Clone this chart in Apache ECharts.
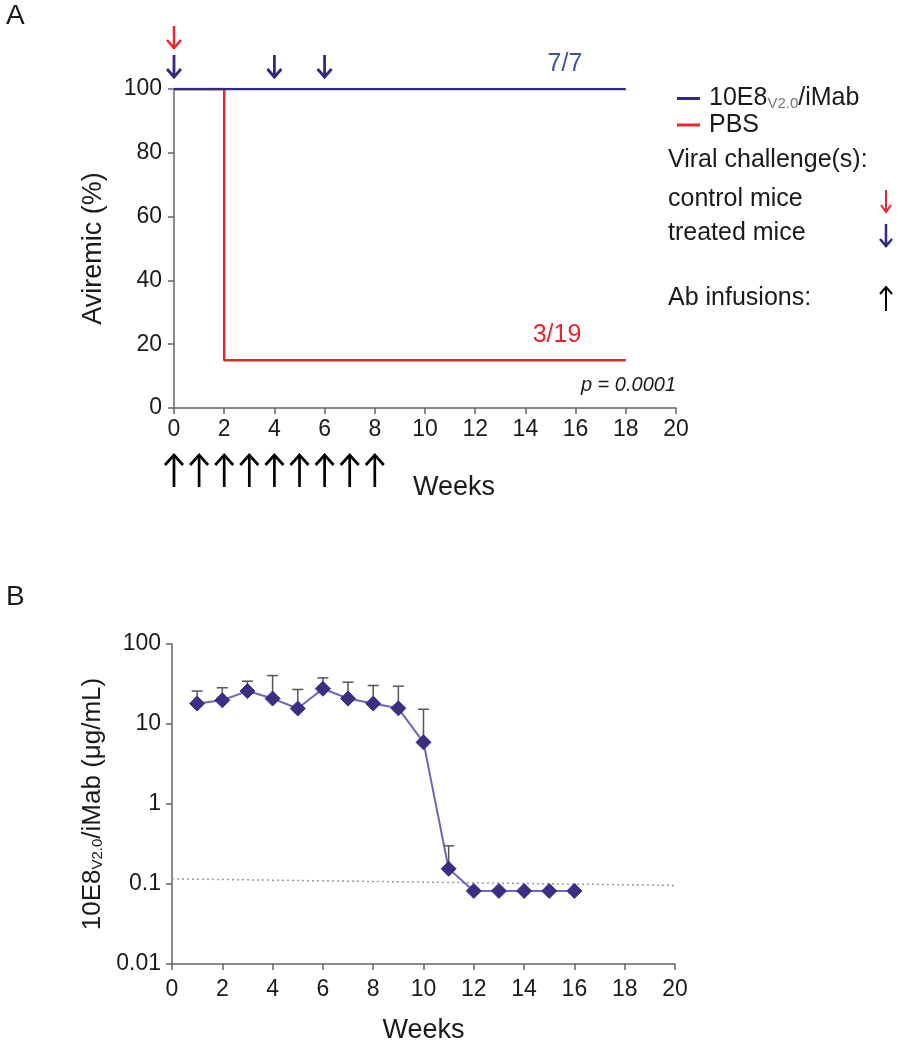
<!DOCTYPE html>
<html><head><meta charset="utf-8">
<script src="https://cdn.jsdelivr.net/npm/echarts@6/dist/echarts.min.js"></script>
<style>html,body{margin:0;padding:0;background:#fff}#c{width:897px;height:1050px}</style>
</head><body><div id="c"></div>
<script>
// ---------- Panel A data ----------
const xTicksA = [0,2,4,6,8,10,12,14,16,18,20];
const treatedWeeks = [0, 18];
const treatedPct = [100, 100];
const pbsWeeks = [0, 2, 2, 18];
const pbsPct = [100, 100, 15, 15];
const infusionWeeks = [0,1,2,3,4,5,6,7,8];
const treatedChallengeWeeks = [0, 4, 6];
const controlChallengeWeeks = [0];
const treatedLabel = '7/7';
const pbsLabel = '3/19';
const pText = 'p = 0.0001';
// ---------- Panel B data ----------
const weeksB = [1,2,3,4,5,6,7,8,9,10,11,12,13,14,15,16];
const concMean = [18.0, 19.8, 25.8, 20.8, 15.6, 27.6, 20.8, 18.0, 15.7, 5.9, 0.155, 0.082, 0.082, 0.082, 0.082, 0.082];
const concUpper = [25.8, 28.4, 34.3, 40.3, 27.0, 37.7, 33.3, 30.3, 29.7, 15.3, 0.30, null, null, null, null, null];
const lodWeeks = [0, 20];
const lodConc = [0.116, 0.096];
const yTicksB = [0.01, 0.1, 1, 10, 100];

const FONT = '"Liberation Sans", Arial, Helvetica, sans-serif';
const BLUE = '#2f2a7e';
const RED = '#e8262b';
const AXIS = '#666';
const TXT = '#1a1a1a';

const chart = echarts.init(document.getElementById('c'), null, {renderer: 'canvas'});

function arrowItem(cx, tipY, tailY, hw, hh, color, lw) {
  const d = tailY > tipY ? 1 : -1;
  return {
    type: 'group',
    children: [
      {type: 'line', shape: {x1: cx, y1: tipY + d * 1, x2: cx, y2: tailY}, style: {stroke: color, lineWidth: lw}},
      {type: 'polyline', shape: {points: [[cx - hw, tipY + d * hh], [cx, tipY], [cx + hw, tipY + d * hh]]},
       style: {stroke: color, lineWidth: lw, fill: null, lineJoin: 'miter'}}
    ]
  };
}

// arrows placed relative to the grid edges (offsets in px)
function arrowSeries(weeks, color, where, off1, off2, hw, hh, lw) {
  return {
    type: 'custom', xAxisIndex: 0, yAxisIndex: 0, clip: false, silent: true, z: 5,
    data: weeks.map(w => [w]),
    encode: {x: 0},
    renderItem(params, api) {
      const cs = params.coordSys;
      const cx = api.coord([api.value(0), 50])[0];
      if (where === 'below') {
        const base = cs.y + cs.height;
        return arrowItem(cx, base + off1, base + off2, hw, hh, color, lw);
      } else {
        const base = cs.y;
        return arrowItem(cx, base - off1, base - off2, hw, hh, color, lw);
      }
    }
  };
}

const axisLabelStyle = {color: TXT, fontSize: 23, fontFamily: FONT};
const axisLineStyle = {show: true, lineStyle: {color: AXIS, width: 1.5}};
const tickStyle = {show: true, length: 6, inside: false, lineStyle: {color: AXIS, width: 1.5}};

const option = {
  animation: false,
  backgroundColor: '#fff',
  textStyle: {fontFamily: FONT},
  grid: [
    {left: 174, top: 89, width: 502, height: 319},
    {left: 172, top: 644, width: 503, height: 320}
  ],
  xAxis: [
    {type: 'value', gridIndex: 0, min: 0, max: 20, interval: 2,
     axisLine: axisLineStyle, axisTick: tickStyle, splitLine: {show: false},
     axisLabel: Object.assign({margin: 10}, axisLabelStyle),
     name: 'Weeks', nameLocation: 'middle', nameGap: 66,
     nameTextStyle: {color: TXT, fontSize: 27, fontFamily: FONT, padding: [0, 0, 0, 58]}},
    {type: 'value', gridIndex: 1, min: 0, max: 20, interval: 2,
     axisLine: axisLineStyle, axisTick: tickStyle, splitLine: {show: false},
     axisLabel: Object.assign({margin: 14}, axisLabelStyle),
     name: 'Weeks', nameLocation: 'middle', nameGap: 53,
     nameTextStyle: {color: TXT, fontSize: 27, fontFamily: FONT}}
  ],
  yAxis: [
    {type: 'value', gridIndex: 0, min: 0, max: 100, interval: 20,
     axisLine: axisLineStyle, axisTick: tickStyle, splitLine: {show: false},
     axisLabel: Object.assign({margin: 12}, axisLabelStyle),
     name: 'Aviremic (%)', nameLocation: 'middle', nameGap: 67, nameRotate: 90,
     nameTextStyle: {color: TXT, fontSize: 27, fontFamily: FONT}},
    {type: 'log', gridIndex: 1, min: 0.01, max: 100, logBase: 10,
     axisLine: axisLineStyle, axisTick: tickStyle, splitLine: {show: false}, minorTick: {show: false},
     axisLabel: Object.assign({margin: 11, formatter: v => {
        const t = yTicksB.find(k => Math.abs(Math.log10(k) - Math.log10(v)) < 1e-6);
        return t === undefined ? '' : String(t);
     }}, axisLabelStyle),
     name: '{a|10E8}{s|V2.0}{a|/iMab (μg/mL)}', nameLocation: 'middle', nameGap: 66, nameRotate: 90,
     nameTextStyle: {color: TXT, fontFamily: FONT, rich: {
       a: {fontSize: 26, fontFamily: FONT, color: TXT},
       s: {fontSize: 15, fontFamily: FONT, color: TXT, verticalAlign: 'bottom', padding: [8, 0, 0, 0]}
     }}}
  ],
  legend: {
    orient: 'vertical', left: 672, top: 81, itemWidth: 23, itemHeight: 3, itemGap: 1,
    icon: 'rect', selectedMode: false,
    data: ['10E8V2.0/iMab', 'PBS'],
    formatter: n => n === 'PBS' ? '{a|PBS}' : '{a|10E8}{s|V2.0}{a|/iMab}',
    textStyle: {color: TXT, fontFamily: FONT, padding: [0, 0, 0, 4], rich: {
      a: {fontSize: 25, lineHeight: 26, fontFamily: FONT, color: TXT},
      s: {fontSize: 15, lineHeight: 26, fontFamily: FONT, color: '#777', verticalAlign: 'bottom', padding: [6, 0, 0, 0]}
    }}
  },
  series: [
    {name: 'PBS', type: 'line', xAxisIndex: 0, yAxisIndex: 0, showSymbol: false, symbol: 'none',
     data: pbsWeeks.map((w, i) => [w, pbsPct[i]]),
     itemStyle: {color: RED}, lineStyle: {color: RED, width: 2.5}, z: 2},
    {name: '10E8V2.0/iMab', type: 'line', xAxisIndex: 0, yAxisIndex: 0, showSymbol: false, symbol: 'none',
     data: treatedWeeks.map((w, i) => [w, treatedPct[i]]),
     itemStyle: {color: BLUE}, lineStyle: {color: BLUE, width: 2.5}, z: 3},
    arrowSeries(infusionWeeks, '#000', 'below', 47, 79, 9, 10, 2.7),
    arrowSeries(treatedChallengeWeeks, BLUE, 'above', 12, 34, 7, 8, 2.8),
    arrowSeries(controlChallengeWeeks, RED, 'above', 41, 63, 7, 8, 2.5),
    // Panel B
    {type: 'line', xAxisIndex: 1, yAxisIndex: 1, showSymbol: false, symbol: 'none', silent: true,
     data: lodWeeks.map((w, i) => [w, lodConc[i]]),
     lineStyle: {color: '#999', width: 1.5, type: [2, 3]}, z: 1},
    {type: 'custom', xAxisIndex: 1, yAxisIndex: 1, silent: true, z: 2,
     data: weeksB.map((w, i) => [w, concMean[i], concUpper[i]]).filter(d => d[2] != null),
     renderItem(params, api) {
       const p1 = api.coord([api.value(0), api.value(1)]);
       const p2 = api.coord([api.value(0), api.value(2)]);
       const cw = 5.5;
       return {type: 'group', children: [
         {type: 'line', shape: {x1: p1[0], y1: p1[1], x2: p2[0], y2: p2[1]}, style: {stroke: '#555', lineWidth: 1.5}},
         {type: 'line', shape: {x1: p2[0] - cw, y1: p2[1], x2: p2[0] + cw, y2: p2[1]}, style: {stroke: '#555', lineWidth: 1.5}}
       ]};
     }},
    {type: 'line', xAxisIndex: 1, yAxisIndex: 1, symbol: 'diamond', symbolSize: 15, showSymbol: true,
     data: weeksB.map((w, i) => [w, concMean[i]]),
     itemStyle: {color: '#3a2f83', borderColor: '#3a2f83'},
     lineStyle: {color: '#6e66b8', width: 2}, z: 3}
  ],
  graphic: [
    {type: 'text', x: 6, y: 16, style: {text: 'A', font: '28px ' + FONT, fill: TXT, textVerticalAlign: 'middle', verticalAlign: 'middle'}},
    {type: 'text', x: 6, y: 597, style: {text: 'B', font: '28px ' + FONT, fill: TXT, textVerticalAlign: 'middle', verticalAlign: 'middle'}},
    {type: 'text', x: 565, y: 64, style: {text: treatedLabel, font: '25px ' + FONT, fill: '#4050a8', textAlign: 'center', align: 'center', textVerticalAlign: 'middle', verticalAlign: 'middle'}},
    {type: 'text', x: 557, y: 335, style: {text: pbsLabel, font: '25px ' + FONT, fill: RED, textAlign: 'center', align: 'center', textVerticalAlign: 'middle', verticalAlign: 'middle'}},
    {type: 'text', x: 676, y: 385, style: {text: pText, font: 'italic 20px ' + FONT, fill: TXT, textAlign: 'right', align: 'right', textVerticalAlign: 'middle', verticalAlign: 'middle'}},
    {type: 'text', x: 668, y: 160, style: {text: 'Viral challenge(s):', font: '25px ' + FONT, fill: TXT, textVerticalAlign: 'middle', verticalAlign: 'middle'}},
    {type: 'text', x: 668, y: 199, style: {text: 'control mice', font: '25px ' + FONT, fill: TXT, textVerticalAlign: 'middle', verticalAlign: 'middle'}},
    {type: 'text', x: 668, y: 233, style: {text: 'treated mice', font: '25px ' + FONT, fill: TXT, textVerticalAlign: 'middle', verticalAlign: 'middle'}},
    {type: 'text', x: 668, y: 298, style: {text: 'Ab infusions:', font: '25px ' + FONT, fill: TXT, textVerticalAlign: 'middle', verticalAlign: 'middle'}},
    arrowItem(886, 212, 190, 5, 7, RED, 2),
    arrowItem(886, 246, 224, 6, 7, BLUE, 2.5),
    arrowItem(886, 287, 311, 6, 7, '#000', 2)
  ]
};
chart.setOption(option);
</script>
</body></html>
